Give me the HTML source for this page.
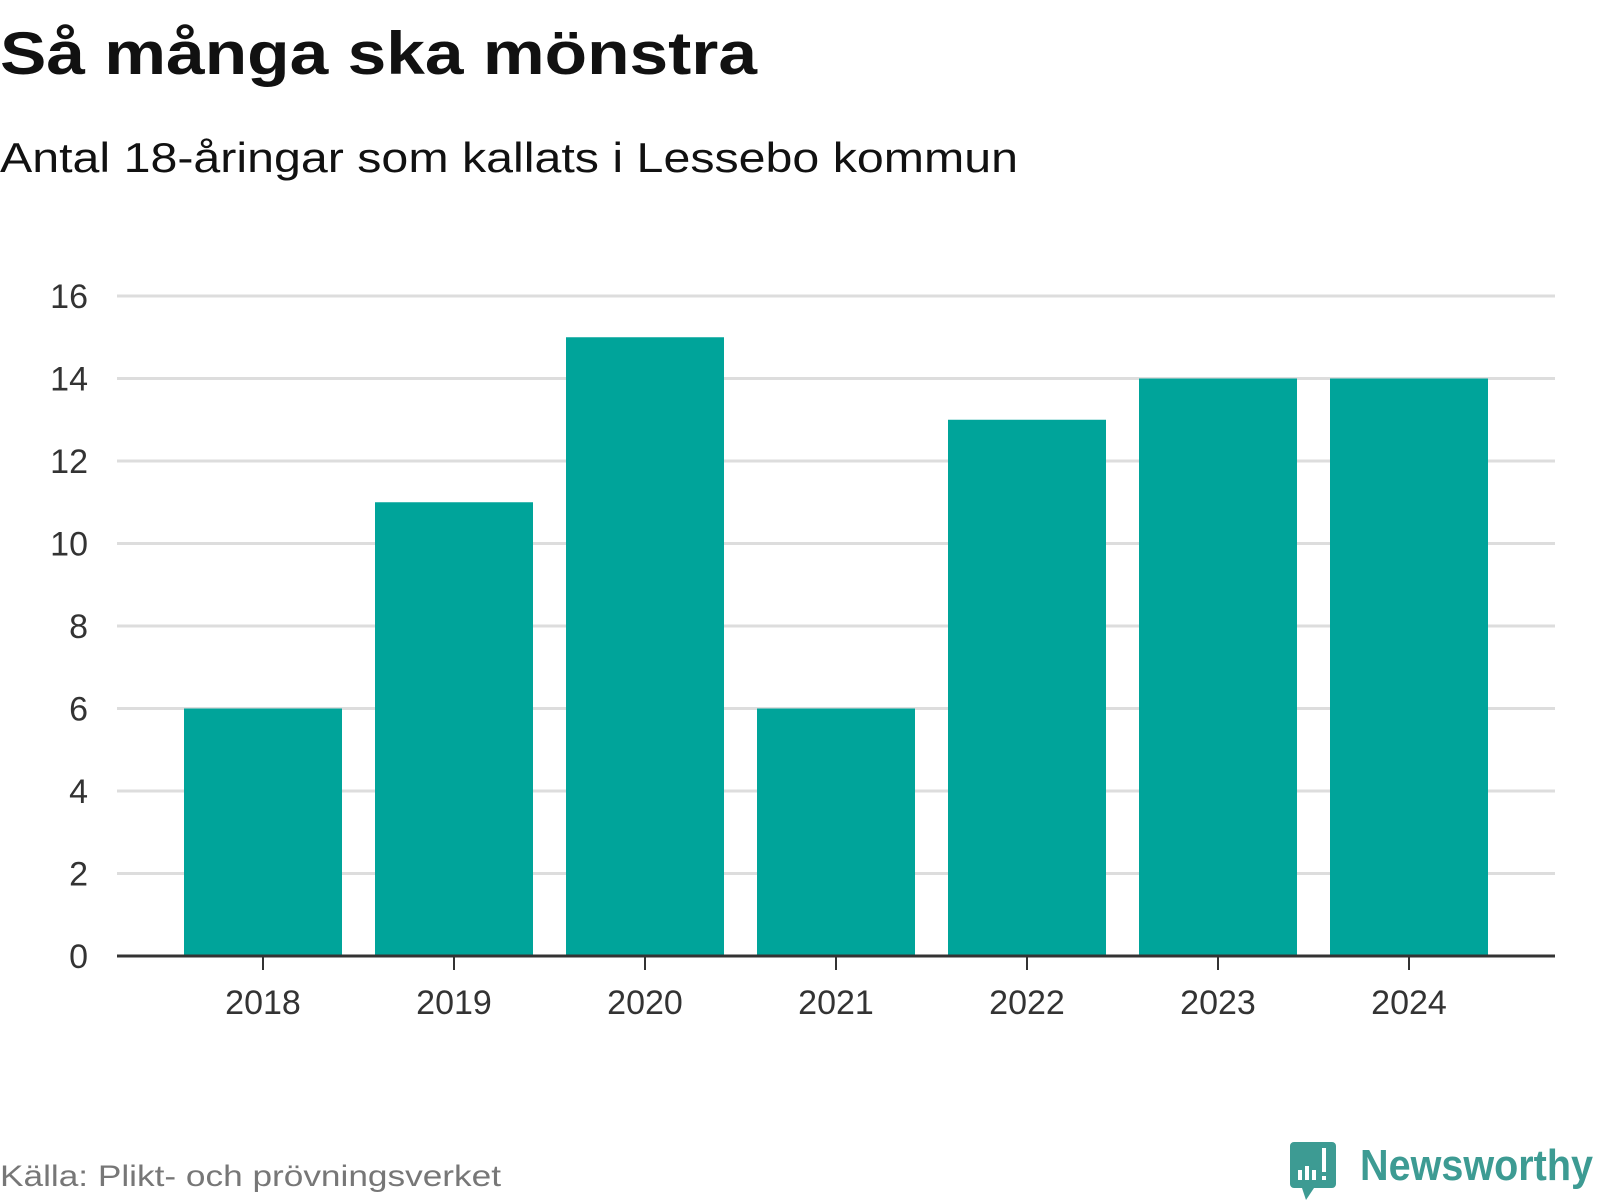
<!DOCTYPE html>
<html><head><meta charset="utf-8"><style>
body{margin:0;background:#fff;width:1600px;height:1200px;overflow:hidden}
svg{display:block;font-family:"Liberation Sans",sans-serif}
</style></head><body>
<svg id="chart" width="1600" height="1200">
<text x="0" y="74" font-size="60" font-weight="bold" fill="#111" textLength="757" lengthAdjust="spacingAndGlyphs">Så många ska mönstra</text>
<text x="0" y="172" font-size="42" fill="#111" textLength="1018" lengthAdjust="spacingAndGlyphs">Antal 18-åringar som kallats i Lessebo kommun</text>
<g id="grid"></g><g id="bars"></g><g id="xaxis"></g>
<text x="0" y="1186" font-size="30" fill="#777" textLength="501" lengthAdjust="spacingAndGlyphs">Källa: Plikt- och prövningsverket</text>
<g>
<path d="M1294 1142 h38 a4 4 0 0 1 4 4 v38 a4 4 0 0 1 -4 4 h-18 l-8 12 l-4 -12 h-8 a4 4 0 0 1 -4 -4 v-38 a4 4 0 0 1 4 -4z" fill="#3d9b93"/>
<rect x="1298" y="1170" width="4" height="10" fill="#fff"/><rect x="1305" y="1166" width="4" height="14" fill="#fff"/><rect x="1312" y="1170" width="4" height="10" fill="#fff"/><rect x="1322" y="1148" width="4" height="24" fill="#fff"/><rect x="1322" y="1176" width="4" height="4" fill="#fff"/>
<text x="1360" y="1180" font-size="44" font-weight="bold" fill="#3d9b93" textLength="233" lengthAdjust="spacingAndGlyphs">Newsworthy</text>
</g>
</svg>
<script>
const categories=["2018","2019","2020","2021","2022","2023","2024"];
const values=[6,11,15,6,13,14,14];
const yTicks=[0,2,4,6,8,10,12,14,16];
const NS="http://www.w3.org/2000/svg";
const plotLeft=117,plotRight=1555,plotTop=296,plotBottom=956,yMax=16;
function yScale(v){return plotBottom-(v/yMax)*(plotBottom-plotTop);}
function xScale(i){return 263+i*191;}
const bw=158;
function mk(t,a,p){const e=document.createElementNS(NS,t);for(const k in a)e.setAttribute(k,a[k]);p.appendChild(e);return e;}
const gGrid=document.getElementById('grid'),gBars=document.getElementById('bars'),gX=document.getElementById('xaxis');
yTicks.forEach(t=>{
 if(t>0){const l=mk('line',{x1:plotLeft,x2:plotRight,y1:yScale(t),y2:yScale(t),stroke:'#ddd','stroke-width':3},gGrid);
 
 }
 const tx=mk('text',{x:88,y:yScale(t)+12,'font-size':34,fill:'#333','text-anchor':'end'},gGrid);tx.textContent=t;
 
 
});
categories.forEach((c,i)=>{
 const cx=xScale(i);
 const r=mk('rect',{x:cx-bw/2,y:yScale(values[i]),width:bw,height:plotBottom-yScale(values[i]),fill:'#00a49a'},gBars);
 
 
 mk('line',{x1:cx,x2:cx,y1:plotBottom,y2:plotBottom+14,stroke:'#333','stroke-width':2},gX);
 const t=mk('text',{x:cx,y:1014,'font-size':34,fill:'#333','text-anchor':'middle'},gX);t.textContent=c;
 
 
});
const ax=mk('line',{x1:plotLeft,x2:plotRight,y1:plotBottom,y2:plotBottom,stroke:'#333','stroke-width':3},gX);


</script>
</body></html>
